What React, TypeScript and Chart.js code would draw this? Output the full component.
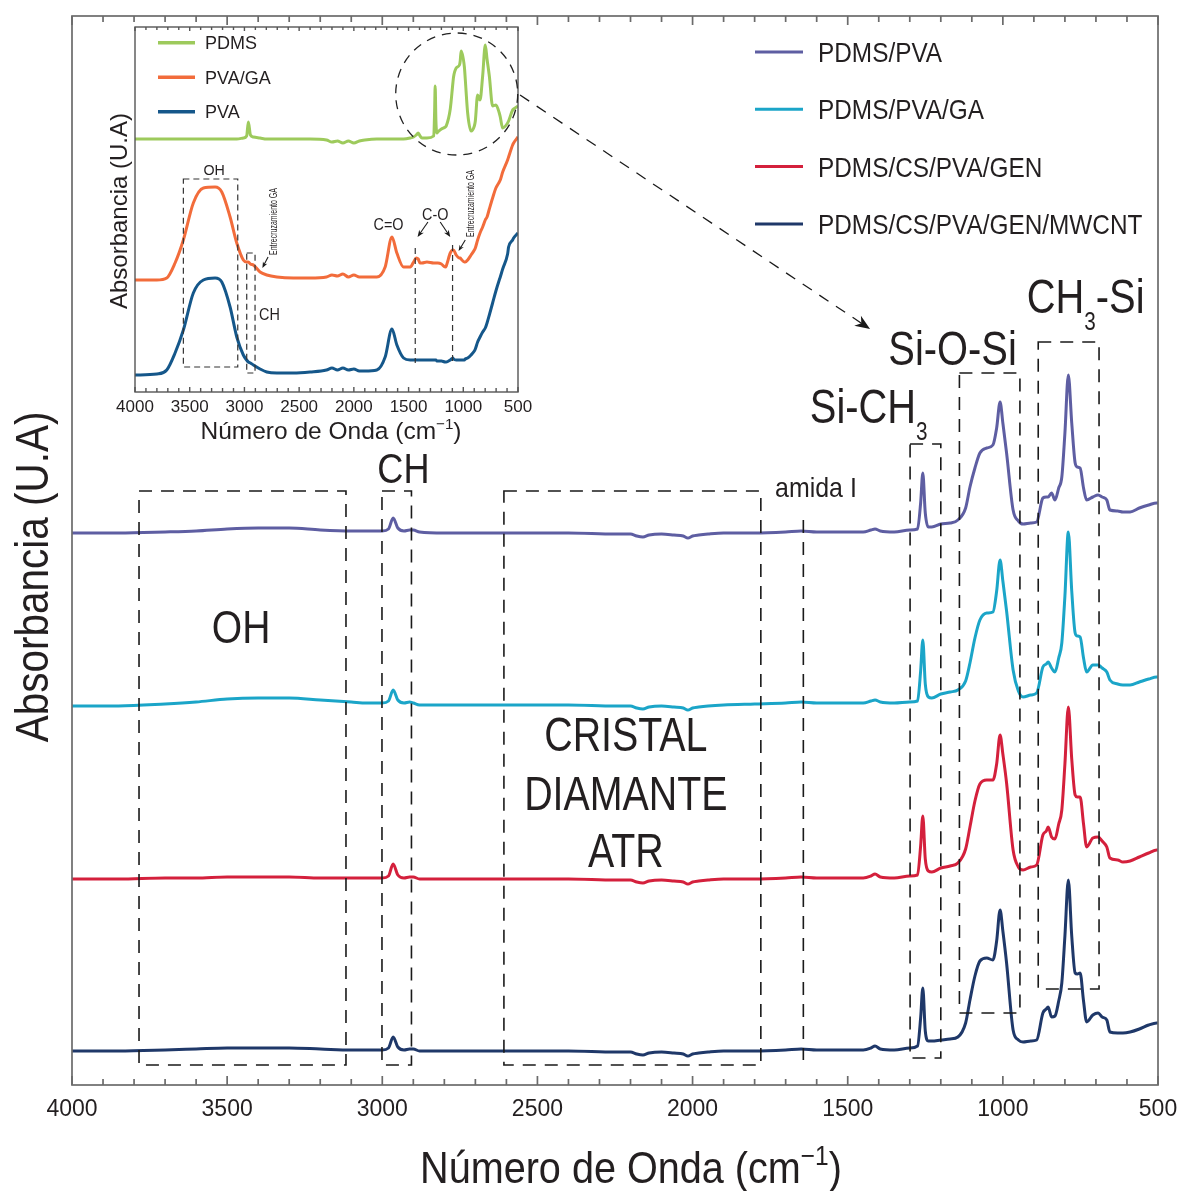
import React, { useEffect, useRef } from "react";
import { Chart, registerables } from "chart.js";
Chart.register(...registerables);

const FONT = '"Liberation Sans", Arial, Helvetica, sans-serif';
const INK = "#231f20";

// ---------------- main chart data (absorbance, arbitrary units) ----------------
const wavenumbers = [4000, 3850, 3700, 3600, 3500, 3400, 3300, 3200, 3100, 3050,
  3000, 2980, 2965, 2950, 2930, 2912, 2900, 2880, 2800, 2600,
  2400, 2250, 2200, 2180, 2160, 2140, 2100, 2060, 2030, 2015,
  2000, 1980, 1950, 1900, 1800, 1700, 1650, 1600, 1500, 1450,
  1425, 1412, 1395, 1350, 1300, 1275, 1265, 1258, 1250, 1240,
  1229, 1200, 1170, 1145, 1120, 1106, 1090, 1074, 1052, 1032,
  1020, 1009, 1000, 988, 967, 950, 935, 910, 891, 871,
  860, 854, 843, 832, 820, 810, 800, 789, 778, 767,
  760, 751, 740, 730, 710, 693, 680, 665, 655, 630,
  613, 590, 560, 530, 504, 500];

const seriesNames = ["PDMS/PVA", "PDMS/PVA/GA", "PDMS/CS/PVA/GEN", "PDMS/CS/PVA/GEN/MWCNT"];
const seriesColors = ["#5e5ea2", "#1ba5c8", "#d4203c", "#1f3869"];
const seriesOffsets = [552, 379, 206, 34];

const pdmsPva = [0, 0, 1, 2, 4, 5, 5, 3, 2, 2,
  2, 4, 15, 5, 2, 3, 3, 1, 0, 0,
  0, -1, -1, -3, -4, -2, -1, -2, -3, -5,
  -3, -2, -1, 0, 0, 1, 2, 1, 1, 1,
  3, 4, 2, 1, 3, 4, 30, 60, 20, 6,
  6, 9, 10, 13, 25, 46, 65, 80, 85, 88,
  105, 131, 110, 80, 23, 12, 9, 10, 11, 35,
  36, 36, 40, 33, 45, 56, 100, 158, 110, 70,
  66, 65, 45, 33, 36, 38, 36, 33, 23, 22,
  21, 21, 25, 28, 30, 30];

const pdmsPvaGa = [0, 0, 2, 4, 7, 8, 8, 6, 4, 3,
  3, 5, 16, 6, 3, 4, 3, 1, 1, 1,
  1, 0, 0, -2, -3, -1, 0, -1, -2, -4,
  -2, -1, 0, 1, 2, 3, 4, 3, 3, 3,
  5, 6, 4, 3, 4, 5, 35, 66, 22, 9,
  8, 12, 14, 16, 25, 43, 68, 86, 93, 94,
  115, 146, 125, 95, 36, 15, 9, 11, 13, 39,
  42, 44, 38, 34, 48, 63, 110, 174, 115, 73,
  70, 69, 48, 34, 41, 41, 38, 34, 26, 22,
  21, 21, 24, 27, 29, 29];

const pdmsCsPvaGen = [0, 0, 1, 1, 2, 2, 2, 1, 1, 1,
  1, 3, 15, 4, 1, 2, 2, 0, 0, 0,
  0, -1, -1, -3, -4, -2, -1, -2, -3, -5,
  -3, -2, -1, 0, 0, 1, 2, 1, 1, 1,
  3, 5, 2, 1, 3, 4, 33, 63, 20, 8,
  7, 11, 13, 16, 30, 52, 78, 95, 99, 99,
  115, 144, 125, 96, 29, 12, 9, 12, 14, 44,
  48, 52, 42, 40, 55, 69, 115, 172, 120, 84,
  82, 82, 55, 32, 41, 42, 38, 32, 21, 19,
  17, 18, 22, 26, 29, 29];

const pdmsCsPvaGenMwcnt = [0, 0, 1, 2, 3, 3, 3, 2, 1, 1,
  1, 3, 14, 4, 1, 2, 2, 0, 0, 0,
  0, -1, -1, -3, -4, -2, -1, -2, -3, -5,
  -3, -2, -1, 0, 0, 1, 2, 1, 1, 1,
  3, 5, 2, 1, 3, 5, 33, 63, 20, 10,
  10, 11, 12, 14, 28, 51, 75, 90, 93, 91,
  110, 141, 120, 88, 21, 11, 9, 10, 11, 38,
  42, 44, 34, 35, 50, 68, 115, 171, 115, 78,
  77, 78, 50, 29, 36, 38, 34, 31, 19, 18,
  18, 19, 22, 26, 28, 28];

const seriesValues = [pdmsPva, pdmsPvaGa, pdmsCsPvaGen, pdmsCsPvaGenMwcnt];
const mainTickLabels = [4000, 3500, 3000, 2500, 2000, 1500, 1000, 500];

// annotation regions [wnStart, wnEnd, yBottom, yTop]
const mainBoxes = [
  [3784, 3117, 20, 594], // OH
  [3001, 2906, 20, 594], // CH
  [2608, 1780, 20, 594], // cristal diamante ATR
  [1299, 1200, 27, 641], // Si-CH3
  [1140, 945, 72, 712], // Si-O-Si
  [886, 690, 96, 743], // CH3-Si
];
const amidaLine = [1643, 25, 565];

// ---------------- inset data ----------------
const insetWn = [4000, 3800, 3710, 3634, 3558, 3467, 3375, 3268, 3207, 3131,
  3070, 3010, 2980, 2964, 2945, 2918, 2857, 2796, 2704, 2552,
  2400, 2250, 2200, 2150, 2100, 2050, 2000, 1950, 1900, 1790,
  1714, 1652, 1607, 1546, 1485, 1454, 1430, 1412, 1395, 1378,
  1332, 1270, 1262, 1257, 1250, 1241, 1233, 1200, 1165, 1156,
  1119, 1095, 1089, 1065, 1035, 1028, 1020, 990, 982, 960,
  929, 899, 890, 869, 847, 823, 799, 783, 762, 732,
  702, 671, 662, 640, 595, 586, 549, 540, 500];

const insetNames = ["PDMS", "PVA/GA", "PVA"];
const insetColors = ["#9dca5c", "#f26c3b", "#15578a"];
const insetOffsets = [253, 112, 17];

const insetPdms = [0, 0, 0, 0, 0, 0, 0, 0, 0, 0,
  0, 1, 3, 17, 4, 2, 1, 0, 0, 0,
  0, -1, -3, -2, -4, -2, -4, -2, -1, 0,
  0, 0, 0, 0, 1, 2, 4, 6, 3, 1,
  1, 3, 28, 53, 18, 6, 7, 10, 12, 13,
  30, 56, 62, 71, 74, 78, 88, 72, 60, 26,
  8, 13, 18, 44, 39, 63, 94, 80, 63, 33,
  34, 26, 22, 11, 16, 18, 29, 30, 33];

const insetPvaGa = [0, 0, 2, 17, 40, 77, 92, 93, 88, 63,
  37, 20, 18, 18, 16, 15, 8, 5, 3, 2,
  2, 3, 5, 4, 6, 3, 5, 3, 3, 3,
  13, 43, 27, 13, 13, 18, 22, 21, 17, 17,
  18, 17, 17, 17, 17, 17, 17, 16, 13, 14,
  27, 30, 30, 25, 22, 22, 21, 18, 18, 20,
  25, 30, 32, 40, 47, 53, 60, 63, 71, 82,
  92, 98, 100, 108, 120, 123, 135, 137, 143];

const insetPva = [0, 1, 5, 22, 45, 82, 95, 97, 93, 68,
  38, 20, 15, 13, 12, 10, 6, 3, 2, 2,
  3, 5, 7, 5, 7, 5, 6, 4, 4, 5,
  18, 46, 30, 17, 15, 15, 15, 15, 15, 15,
  15, 15, 15, 15, 15, 14, 14, 14, 13, 13,
  15, 17, 16, 15, 15, 15, 15, 15, 16, 17,
  20, 24, 26, 33, 38, 43, 47, 52, 60, 72,
  84, 95, 98, 106, 121, 128, 135, 137, 142];

const insetValues = [insetPdms, insetPvaGa, insetPva];

// ---------------- helpers ----------------
type Part = { t: string; mode?: "sub" | "sup" };
type TOpt = { sx?: number; align?: "left" | "center" | "right"; rot?: boolean; color?: string };

function drawText(ctx: CanvasRenderingContext2D, parts: Part[] | string, x: number, y: number, size: number, opt: TOpt = {}) {
  const ps: Part[] = typeof parts === "string" ? [{ t: parts }] : parts;
  const sx = opt.sx ?? 1;
  ctx.save();
  ctx.translate(x, y);
  if (opt.rot) ctx.rotate(-Math.PI / 2);
  ctx.scale(sx, 1);
  ctx.fillStyle = opt.color ?? INK;
  ctx.textBaseline = "alphabetic";
  ctx.textAlign = "left";
  const sizes = ps.map((p) => (p.mode === "sub" ? size * 0.52 : p.mode === "sup" ? size * 0.62 : size));
  const widths = ps.map((p, i) => {
    ctx.font = `${sizes[i]}px ${FONT}`;
    return ctx.measureText(p.t).width;
  });
  const total = widths.reduce((a, b) => a + b, 0);
  let cx = opt.align === "center" ? -total / 2 : opt.align === "right" ? -total : 0;
  ps.forEach((p, i) => {
    ctx.font = `${sizes[i]}px ${FONT}`;
    const dy = p.mode === "sub" ? size * 0.35 : p.mode === "sup" ? -size * 0.42 : 0;
    ctx.fillText(p.t, cx, dy);
    cx += widths[i];
  });
  ctx.restore();
}

function dashedRect(ctx: CanvasRenderingContext2D, x1: number, y1: number, x2: number, y2: number) {
  ctx.beginPath();
  ctx.rect(Math.min(x1, x2), Math.min(y1, y2), Math.abs(x2 - x1), Math.abs(y2 - y1));
  ctx.stroke();
}

function arrow(ctx: CanvasRenderingContext2D, x1: number, y1: number, x2: number, y2: number, dash: number[], head: number, lw: number) {
  const ang = Math.atan2(y2 - y1, x2 - x1);
  ctx.save();
  ctx.strokeStyle = "#1a1a1a";
  ctx.fillStyle = "#1a1a1a";
  ctx.lineWidth = lw;
  ctx.setLineDash(dash);
  ctx.beginPath();
  ctx.moveTo(x1, y1);
  ctx.lineTo(x2 - Math.cos(ang) * head * 0.6, y2 - Math.sin(ang) * head * 0.6);
  ctx.stroke();
  ctx.setLineDash([]);
  ctx.beginPath();
  ctx.moveTo(x2, y2);
  ctx.lineTo(x2 - head * Math.cos(ang) + head * 0.4 * Math.sin(ang), y2 - head * Math.sin(ang) - head * 0.4 * Math.cos(ang));
  ctx.lineTo(x2 - head * 0.7 * Math.cos(ang), y2 - head * 0.7 * Math.sin(ang));
  ctx.lineTo(x2 - head * Math.cos(ang) - head * 0.4 * Math.sin(ang), y2 - head * Math.sin(ang) + head * 0.4 * Math.cos(ang));
  ctx.closePath();
  ctx.fill();
  ctx.restore();
}

function frameAndTicks(chart: any, color: string, lw: number, major: number, minor: number, topMajor: number, topMinor: number) {
  const { ctx, chartArea: ca, scales } = chart;
  const x = scales.x;
  ctx.save();
  ctx.strokeStyle = color;
  ctx.lineWidth = lw;
  ctx.strokeRect(ca.left, ca.top, ca.right - ca.left, ca.bottom - ca.top);
  ctx.beginPath();
  for (let w = 500; w <= 4000; w += 100) {
    const px = x.getPixelForValue(w);
    const isMajor = w % 500 === 0;
    ctx.moveTo(px, ca.bottom);
    ctx.lineTo(px, ca.bottom - (isMajor ? major : minor));
    ctx.moveTo(px, ca.top);
    ctx.lineTo(px, ca.top + (isMajor ? topMajor : topMinor));
  }
  ctx.stroke();
  ctx.restore();
}

// ---------------- main plugin ----------------
const mainPlugin = {
  id: "mainDecor",
  afterDraw(chart: any) {
    const { ctx, chartArea: ca, scales } = chart;
    const x = scales.x;
    const y = scales.y;
    frameAndTicks(chart, "#6b6b6b", 1.7, 9, 6, 9, 6);

    // dashed annotation boxes
    ctx.save();
    ctx.strokeStyle = "#1a1a1a";
    ctx.lineWidth = 1.6;
    ctx.setLineDash([13, 9]);
    mainBoxes.forEach(([a, b, lo, hi]) => {
      dashedRect(ctx, x.getPixelForValue(a), y.getPixelForValue(hi), x.getPixelForValue(b), y.getPixelForValue(lo));
    });
    ctx.beginPath();
    ctx.moveTo(x.getPixelForValue(amidaLine[0]), y.getPixelForValue(amidaLine[2]));
    ctx.lineTo(x.getPixelForValue(amidaLine[0]), y.getPixelForValue(amidaLine[1]));
    ctx.stroke();
    ctx.restore();

    // labels
    const X = (w: number) => x.getPixelForValue(w);
    const Y = (v: number) => y.getPixelForValue(v);
    drawText(ctx, "OH", X(3455), Y(442), 46, { sx: 0.85, align: "center" });
    drawText(ctx, "CH", X(2932), Y(602), 43, { sx: 0.84, align: "center" });
    drawText(ctx, "CRISTAL", X(2215), Y(334), 48, { sx: 0.82, align: "center" });
    drawText(ctx, "DIAMANTE", X(2215), Y(275), 48, { sx: 0.82, align: "center" });
    drawText(ctx, "ATR", X(2215), Y(218), 48, { sx: 0.82, align: "center" });
    drawText(ctx, "amida I", X(1734), Y(588), 28, { sx: 0.89, align: "left" });
    drawText(ctx, [{ t: "Si-CH" }, { t: "3", mode: "sub" }], X(1622), Y(662), 48, { sx: 0.83, align: "left" });
    drawText(ctx, "Si-O-Si", X(1369), Y(720), 48, { sx: 0.83, align: "left" });
    drawText(ctx, [{ t: "CH" }, { t: "3", mode: "sub" }, { t: "-Si" }], X(923), Y(772), 48, { sx: 0.83, align: "left" });

    // dashed arrow from inset to Si-O-Si
    arrow(ctx, X(2556), Y(990), X(1428), Y(756), [11, 9], 15, 1.3);

    // legend
    const lx1 = 755, lx2 = 803, ly0 = 52, lstep = 57.3;
    seriesNames.forEach((n, i) => {
      const ly = ly0 + i * lstep;
      ctx.save();
      ctx.strokeStyle = seriesColors[i];
      ctx.lineWidth = 3;
      ctx.beginPath();
      ctx.moveTo(lx1, ly);
      ctx.lineTo(lx2, ly);
      ctx.stroke();
      ctx.restore();
      drawText(ctx, n, 818, ly + 10, 28, { sx: 0.87 });
    });

    // axis titles
    drawText(ctx, [{ t: "Número de Onda (cm" }, { t: "−1", mode: "sup" }, { t: ")" }], 631, ca.bottom + 98, 44, { sx: 0.9, align: "center" });
    drawText(ctx, "Absorbancia (U.A)", 48, 577, 46, { sx: 0.88, align: "center", rot: true });
  },
};

// ---------------- inset plugin ----------------
const insetPlugin = {
  id: "insetDecor",
  afterDraw(chart: any) {
    const { ctx, scales } = chart;
    const x = scales.x;
    const y = scales.y;
    const X = (w: number) => x.getPixelForValue(w);
    const Y = (v: number) => y.getPixelForValue(v);
    frameAndTicks(chart, "#555", 1.4, 5, 4, 4, 3);

    ctx.save();
    ctx.strokeStyle = "#333";
    ctx.lineWidth = 1.2;
    ctx.setLineDash([6, 4]);
    dashedRect(ctx, X(3558), Y(213), X(3061), Y(25));
    dashedRect(ctx, X(2979), Y(139), X(2903), Y(19));
    ctx.beginPath();
    ctx.moveTo(X(1439), Y(144));
    ctx.lineTo(X(1439), Y(29));
    ctx.moveTo(X(1098), Y(147));
    ctx.lineTo(X(1098), Y(30));
    ctx.stroke();
    // circle around PDMS fingerprint
    ctx.strokeStyle = "#222";
    ctx.lineWidth = 1.3;
    ctx.setLineDash([9, 7]);
    ctx.beginPath();
    ctx.arc(X(1060), Y(298), 61, 0, Math.PI * 2);
    ctx.stroke();
    ctx.restore();

    drawText(ctx, "OH", X(3277), Y(217), 15, { sx: 0.95, align: "center" });
    drawText(ctx, "CH", X(2772), Y(72), 16, { sx: 0.9, align: "center" });
    drawText(ctx, "C=O", X(1683), Y(162), 16, { sx: 0.9, align: "center" });
    drawText(ctx, "C-O", X(1256), Y(172), 16, { sx: 0.9, align: "center" });
    drawText(ctx, "Entrecruzamiento GA", X(2704), Y(137), 10, { sx: 0.7, rot: true });
    drawText(ctx, "Entrecruzamiento GA", X(906), Y(155), 10, { sx: 0.7, rot: true });
    arrow(ctx, X(1323), Y(170), X(1418), Y(155), [], 7, 1.1);
    arrow(ctx, X(1211), Y(170), X(1119), Y(155), [], 7, 1.1);
    arrow(ctx, X(2784), Y(135), X(2836), Y(124), [], 6, 1.1);
    arrow(ctx, X(982), Y(152), X(1043), Y(141), [], 6, 1.1);

    // legend
    insetNames.forEach((n, i) => {
      const ly = 22.7 + i * 34.5;
      ctx.save();
      ctx.strokeStyle = insetColors[i];
      ctx.lineWidth = 3.5;
      ctx.beginPath();
      ctx.moveTo(68, ly);
      ctx.lineTo(105, ly);
      ctx.stroke();
      ctx.restore();
      drawText(ctx, n, 115, ly + 6.5, 18, {});
    });

    drawText(ctx, [{ t: "Número de Onda (cm" }, { t: "−1", mode: "sup" }, { t: ")" }], 241, 419, 24.5, { align: "center" });
    drawText(ctx, "Absorbancia (U.A)", 36.5, 191, 24, { align: "center", rot: true });
  },
};

const tickFmt = (v: any) => String(v);

export default function App() {
  const mainRef = useRef<HTMLCanvasElement>(null);
  const insetRef = useRef<HTMLCanvasElement>(null);

  useEffect(() => {
    document.body.style.margin = "0";
    const mainChart = new Chart(mainRef.current as HTMLCanvasElement, {
      type: "line",
      data: {
        datasets: seriesNames.map((name, i) => ({
          label: name,
          data: wavenumbers.map((w, j) => ({ x: w, y: seriesOffsets[i] + seriesValues[i][j] })),
          borderColor: seriesColors[i],
          borderWidth: 3,
          pointRadius: 0,
          fill: false,
          cubicInterpolationMode: "monotone" as const,
        })),
      },
      options: {
        responsive: false,
        animation: false,
        devicePixelRatio: 1,
        events: [],
        layout: { padding: { left: 72, top: 16, right: 32, bottom: 0 } },
        plugins: { legend: { display: false }, tooltip: { enabled: false } },
        scales: {
          x: {
            type: "linear",
            reverse: true,
            min: 500,
            max: 4000,
            grid: { display: false },
            border: { display: false },
            afterBuildTicks: (s: any) => {
              s.ticks = mainTickLabels.map((v) => ({ value: v }));
            },
            ticks: { font: { family: FONT, size: 23 }, color: INK, padding: 3, maxRotation: 0, autoSkip: false, callback: tickFmt },
            afterFit: (s: any) => {
              s.height = 106;
            },
          },
          y: { display: false, min: 0, max: 1069 },
        },
      },
      plugins: [mainPlugin],
    } as any);

    const insetChart = new Chart(insetRef.current as HTMLCanvasElement, {
      type: "line",
      data: {
        datasets: insetNames.map((name, i) => ({
          label: name,
          data: insetWn.map((w, j) => ({ x: w, y: insetOffsets[i] + insetValues[i][j] })),
          borderColor: insetColors[i],
          borderWidth: 3,
          pointRadius: 0,
          fill: false,
          cubicInterpolationMode: "monotone" as const,
        })),
      },
      options: {
        responsive: false,
        animation: false,
        devicePixelRatio: 1,
        events: [],
        layout: { padding: { left: 45, top: 7, right: 22, bottom: 0 } },
        plugins: { legend: { display: false }, tooltip: { enabled: false } },
        scales: {
          x: {
            type: "linear",
            reverse: true,
            min: 500,
            max: 4000,
            grid: { display: false },
            border: { display: false },
            afterBuildTicks: (s: any) => {
              s.ticks = mainTickLabels.map((v) => ({ value: v }));
            },
            ticks: { font: { family: FONT, size: 17 }, color: INK, padding: -3, maxRotation: 0, autoSkip: false, callback: tickFmt },
            afterFit: (s: any) => {
              s.height = 58;
            },
          },
          y: { display: false, min: 0, max: 365 },
        },
      },
      plugins: [insetPlugin],
    } as any);

    return () => {
      mainChart.destroy();
      insetChart.destroy();
    };
  }, []);

  return (
    <div style={{ position: "relative", width: 1190, height: 1191, background: "#fff", overflow: "hidden" }}>
      <canvas ref={mainRef} width={1190} height={1191} style={{ display: "block", position: "absolute", left: 0, top: 0 }} />
      <canvas ref={insetRef} width={450} height={430} style={{ display: "block", position: "absolute", left: 90, top: 20 }} />
    </div>
  );
}
